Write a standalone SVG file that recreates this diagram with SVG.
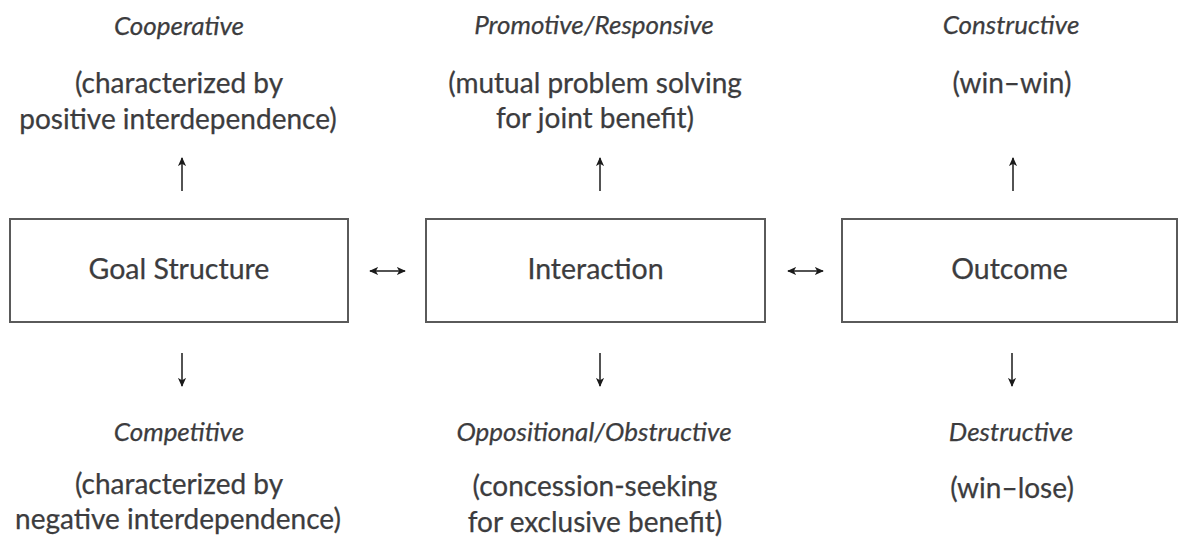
<svg xmlns="http://www.w3.org/2000/svg" width="1179" height="544" viewBox="0 0 1179 544">
  <style>
    text { font-family: "Lato", "Open Sans", "Liberation Sans", sans-serif; fill: #3c3c3e; stroke: #3c3c3e; stroke-width: 0.25; text-anchor: middle; }
    .lab { font-size: 26px; font-style: italic; }
    .desc { font-size: 28px; }
    .box-label { font-size: 28.5px; }
    .box { fill: #ffffff; stroke: #5a5a5a; stroke-width: 2; }
    .conn { stroke: #1a1a1a; stroke-width: 1.5; fill: none; }
  </style>
  <defs>
    <marker id="head" viewBox="0 0 10 10" refX="9" refY="5" markerWidth="9" markerHeight="9" markerUnits="userSpaceOnUse" orient="auto-start-reverse">
      <path d="M0,0.5 L10,5 L0,9.5 L2.5,5 Z" fill="#1a1a1a"/>
    </marker>
  </defs>
  <rect width="1179" height="544" fill="#ffffff"/>

  <!-- connectors -->
  <g id="connectors">
    <path class="conn" d="M182,191 V158" marker-end="url(#head)"/>
    <path class="conn" d="M600,191 V158" marker-end="url(#head)"/>
    <path class="conn" d="M1013,191 V158" marker-end="url(#head)"/>
    <path class="conn" d="M182,353 V386" marker-end="url(#head)"/>
    <path class="conn" d="M600,353 V386" marker-end="url(#head)"/>
    <path class="conn" d="M1012,353 V386" marker-end="url(#head)"/>
    <path class="conn" d="M370,271 H405" marker-start="url(#head)" marker-end="url(#head)"/>
    <path class="conn" d="M788,271 H823" marker-start="url(#head)" marker-end="url(#head)"/>
  </g>

  <!-- boxes -->
  <g id="goal-structure">
    <rect class="box" x="10" y="219" width="338" height="103"/>
    <text class="box-label" x="179" y="279">Goal Structure</text>
  </g>
  <g id="interaction">
    <rect class="box" x="426" y="219" width="339" height="103"/>
    <text class="box-label" x="595.5" y="279">Interaction</text>
  </g>
  <g id="outcome">
    <rect class="box" x="842" y="219" width="335" height="103"/>
    <text class="box-label" x="1009.5" y="279">Outcome</text>
  </g>

  <!-- upper labels -->
  <g id="cooperative">
    <text class="lab" x="179" y="35">Cooperative</text>
    <text class="desc" x="179" y="93">(characterized by</text>
    <text class="desc" x="178" y="129">positive interdependence)</text>
  </g>
  <g id="promotive">
    <text class="lab" x="594" y="34">Promotive/Responsive</text>
    <text class="desc" x="595" y="93">(mutual problem solving</text>
    <text class="desc" x="595" y="128">for joint benefit)</text>
  </g>
  <g id="constructive">
    <text class="lab" x="1011" y="34">Constructive</text>
    <text class="desc" x="1012" y="93">(win–win)</text>
  </g>

  <!-- lower labels -->
  <g id="competitive">
    <text class="lab" x="179" y="441">Competitive</text>
    <text class="desc" x="179" y="494">(characterized by</text>
    <text class="desc" x="178" y="529">negative interdependence)</text>
  </g>
  <g id="oppositional">
    <text class="lab" x="594" y="441">Oppositional/Obstructive</text>
    <text class="desc" x="595" y="496">(concession-seeking</text>
    <text class="desc" x="595" y="532">for exclusive benefit)</text>
  </g>
  <g id="destructive">
    <text class="lab" x="1011" y="441">Destructive</text>
    <text class="desc" x="1012" y="498">(win–lose)</text>
  </g>
</svg>
